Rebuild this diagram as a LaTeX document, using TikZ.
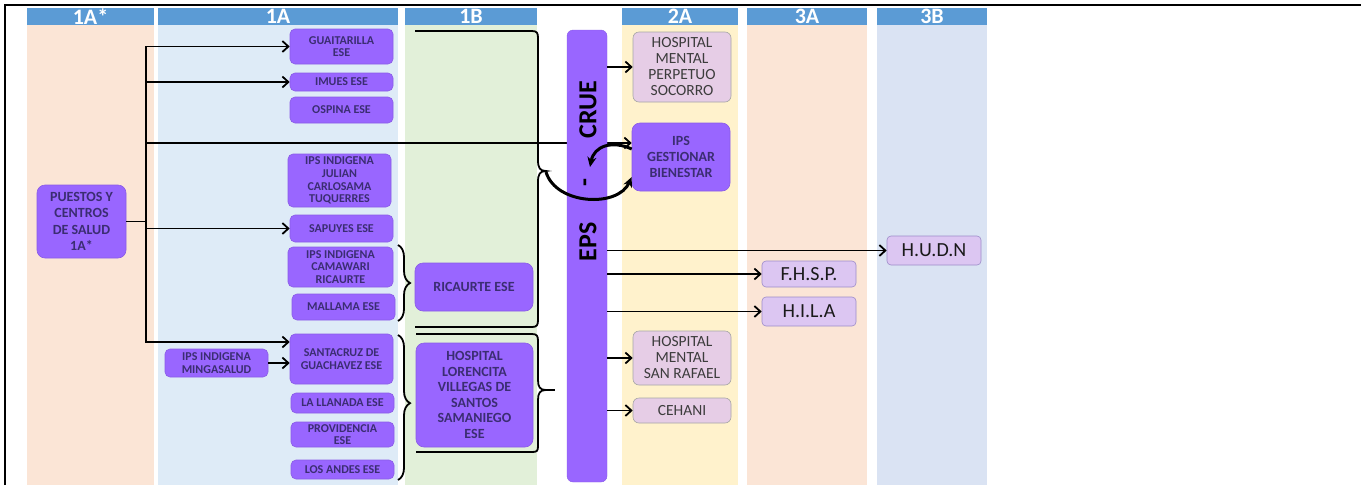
\documentclass[tikz,border=0pt]{standalone}
\usepackage{fontspec}
\setmainfont{Carlito}
\usetikzlibrary{arrows.meta,positioning,decorations.pathreplacing}
\definecolor{hdblue}{HTML}{5B9BD5}
\definecolor{softpeach}{HTML}{FBE5D6}
\definecolor{softblue}{HTML}{DEEBF7}
\definecolor{softblueb}{HTML}{DAE3F3}
\definecolor{softgreen}{HTML}{E2F0D9}
\definecolor{softyellow}{HTML}{FFF2CC}
\definecolor{violet}{HTML}{9966FF}
\definecolor{violetdraw}{HTML}{8A5CE6}
\definecolor{violetink}{HTML}{3B2D72}
\definecolor{pinkfill}{HTML}{E6CDE6}
\definecolor{lavfill}{HTML}{DCC6F2}
\definecolor{lavdraw}{HTML}{9C8CC9}
\definecolor{ink}{HTML}{1A1A1A}

\begin{document}
\begin{tikzpicture}[x=1pt, y=-1pt,
  col/.style={fill=#1, draw=none, anchor=north, minimum height=460pt, inner sep=0pt},
  hd/.style={fill=hdblue, text=white, font=\fontsize{22}{22}\selectfont\bfseries, anchor=north, minimum height=17pt, inner sep=0pt},
  unit/.style={rounded corners=5pt, fill=violet, draw=violetdraw, line width=0.6pt, text=violetink, align=center, inner sep=1pt, font=\fontsize{12}{12.7}\selectfont\bfseries},
  bigunit/.style={unit, rounded corners=8pt, font=\fontsize{14}{15.5}\selectfont\bfseries},
  hosp/.style={rounded corners=6pt, fill=pinkfill, draw=gray!70, line width=0.6pt, text=ink!85, align=center, inner sep=1pt, font=\fontsize{15.5}{16}\selectfont},
  refbox/.style={rounded corners=4pt, fill=lavfill, draw=lavdraw, line width=0.6pt, text=ink, align=center, inner sep=1pt, font=\fontsize{20}{20}\selectfont},
  bartext/.style={rotate=90, font=\fontsize{26}{26}\selectfont\bfseries, text=black, inner sep=0pt},
  arrow/.style={-{Straight Barb[length=6pt,width=11pt]}, draw=black, line width=1.8pt},
  loop/.style={-{Stealth[length=10pt,width=9pt]}, draw=black, line width=3pt},
  brk/.style={draw=black, line width=1.8pt}
]
\useasboundingbox (0,0) rectangle (1361,485);

% columns and level headers
\foreach \name/\cx/\w/\bg/\lab in {c1s/90.5/127/softpeach/1A*, c1/278/240/softblue/1A,
  c2/471/132/softgreen/1B, c3/680/116/softyellow/2A, c4/807/120/softpeach/3A, c5/932/110/softblueb/3B}{
  \node[col=\bg, minimum width=\w pt] (bg-\name) at (\cx,25) {};
  \node[hd, minimum width=\w pt] (hd-\name) at (\cx,7.5) {\lab};
}
\draw[line width=2pt] (5,485) -- (5,5) -- (1361,5);

% level 1A*
\node[unit, rounded corners=8pt, font=\fontsize{14}{16.5}\selectfont\bfseries, minimum width=89pt, minimum height=73pt] (puestos) at (81.5,221.5) {PUESTOS Y\\CENTROS\\DE SALUD\\1A*};

% level 1A
\node[unit, minimum width=103pt, minimum height=35pt] (guait) at (341.5,46.5) {GUAITARILLA\\ESE};
\node[unit, minimum width=103pt, minimum height=18pt] (imues) at (341.5,82) {IMUES ESE};
\node[unit, minimum width=103pt, minimum height=26pt] (ospina) at (341.5,110) {OSPINA ESE};
\node[unit, minimum width=103pt, minimum height=53pt] (julian) at (339.5,180.5) {IPS INDIGENA\\JULIAN\\CARLOSAMA\\TUQUERRES};
\node[unit, minimum width=103pt, minimum height=27pt] (sapuyes) at (341.5,228.5) {SAPUYES ESE};
\node[unit, minimum width=105pt, minimum height=40pt] (camawari) at (340.5,267) {IPS INDIGENA\\CAMAWARI\\RICAURTE};
\node[unit, minimum width=103pt, minimum height=26pt] (mallama) at (343.5,307) {MALLAMA ESE};
\node[unit, minimum width=103pt, minimum height=50pt] (santacruz) at (341.5,359) {SANTACRUZ DE\\GUACHAVEZ ESE};
\node[unit, minimum width=103pt, minimum height=28pt] (minga) at (216.5,363) {IPS INDIGENA\\MINGASALUD};
\node[unit, minimum width=103pt, minimum height=20pt] (llanada) at (342.5,403) {LA LLANADA ESE};
\node[unit, minimum width=103pt, minimum height=25pt] (providencia) at (342.5,434.5) {PROVIDENCIA\\ESE};
\node[unit, minimum width=103pt, minimum height=19pt] (andes) at (342.5,469.5) {LOS ANDES ESE};

% level 1B
\node[bigunit, minimum width=118pt, minimum height=48pt] (ricaurte) at (474,287) {RICAURTE ESE};
\node[bigunit, minimum width=117pt, minimum height=104pt] (lorencita) at (474.5,395) {HOSPITAL\\LORENCITA\\VILLEGAS DE\\SANTOS\\SAMANIEGO\\ESE};

% referrals from 1A*
\coordinate (trunk) at (146,221.5);
\draw[arrow] (puestos.east) -- (trunk) |- (guait.west);
\draw[arrow] (puestos.east) -- (trunk) |- (imues.west);
\draw[arrow] (puestos.east) -- (trunk) |- (sapuyes.west);
\draw[arrow] (puestos.east) -- (trunk) |- ([yshift=17pt]santacruz.west);
\draw[arrow] (minga) -- (minga -| santacruz.west);

% level 2A
\node[hosp, minimum width=98pt, minimum height=70pt] (perpetuo) at (682,67) {HOSPITAL\\MENTAL\\PERPETUO\\SOCORRO};
\node[bigunit, font=\fontsize{14}{16}\selectfont\bfseries, minimum width=98pt, minimum height=68pt] (gestionar) at (681,157) {IPS\\GESTIONAR\\BIENESTAR};
\node[hosp, minimum width=98pt, minimum height=54pt] (sanrafael) at (682,358) {HOSPITAL\\MENTAL\\SAN RAFAEL};
\node[hosp, minimum width=98pt, minimum height=25pt] (cehani) at (682,410.5) {CEHANI};
\draw[arrow] (puestos.east) -- (trunk) |- ([yshift=14pt]gestionar.west);

% CRUE - EPS bar
\node[fill=violet, draw=violetdraw, rounded corners=6pt, minimum width=40pt, minimum height=452pt] (bar) at (587,256) {};
\node[bartext] (crue) at (588,110) {CRUE};
\node[bartext] (dash) at (588,183) {-};
\node[bartext] (eps) at (588,242) {EPS};

% levels 3A and 3B
\node[refbox, minimum width=94pt, minimum height=26pt] (fhsp) at (809,274) {F.H.S.P.};
\node[refbox, minimum width=94pt, minimum height=29pt] (hila) at (809,311.5) {H.I.L.A};
\node[refbox, minimum width=94pt, minimum height=29pt] (hudn) at (934,250.5) {H.U.D.N};

\draw[arrow] (bar.east |- perpetuo) -- (perpetuo);
\draw[arrow] (bar.east |- hudn) -- (hudn);
\draw[arrow] (bar.east |- fhsp) -- (fhsp);
\draw[arrow] (bar.east |- hila) -- (hila);
\draw[arrow] (bar.east |- sanrafael) -- (sanrafael);
\draw[arrow] (bar.east |- cehani) -- (cehani);

% brackets
\draw[brk] (415,31) -- (532,31) .. controls (537,31) and (538,33) .. (538,38) -- (538,160)
  .. controls (538,168) and (540,171) .. (546,171) .. controls (540,171) and (538,174) .. (538,182)
  -- (538,320) .. controls (538,325) and (537,327) .. (532,327) -- (415,327);
\draw[brk] (416,334) -- (532,334) .. controls (537,334) and (538,336) .. (538,341) -- (538,380)
  .. controls (538,387) and (540,390) .. (546,390) .. controls (540,390) and (538,393) .. (538,400)
  -- (538,446) .. controls (538,451) and (537,452) .. (532,452) -- (416,452);
\draw[brk] (546,390) -- (555,390);
\draw[brk, decorate, decoration={brace, amplitude=12pt}] (398,245) -- (398,321);
\draw[brk, decorate, decoration={brace, amplitude=12pt, aspect=0.47}] (398,335) -- (398,480);

% CRUE cycle
\coordinate (tip) at (546,172);
\coordinate (cyc) at (590,167);
\draw[loop] (tip) .. controls (556,205) and (618,208) .. ([yshift=-20pt]gestionar.west);
\draw[loop] ([yshift=8pt]gestionar.west) .. controls (612,140) and (594,146) .. (cyc);

\end{tikzpicture}
\end{document}
